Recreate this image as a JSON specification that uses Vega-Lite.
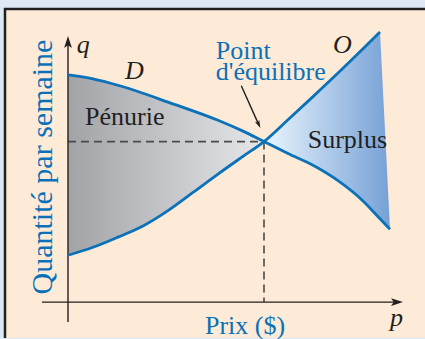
{
  "$schema": "https://vega.github.io/schema/vega-lite/v6.json",
  "width": 425,
  "height": 339,
  "padding": 0,
  "autosize": {"type": "fit", "contains": "padding"},
  "background": "#dde8f4",
  "config": {"view": {"stroke": null}},
  "datasets": {
    "curves": [
      {"p": 0, "demand": 228, "supply": 47},
      {"p": 25, "demand": 224, "supply": 55},
      {"p": 50, "demand": 217.5, "supply": 65.2},
      {"p": 75, "demand": 209.5, "supply": 76.4},
      {"p": 100, "demand": 200.6, "supply": 91.8},
      {"p": 125, "demand": 191.8, "supply": 110},
      {"p": 150, "demand": 182.4, "supply": 128.4},
      {"p": 175, "demand": 171.5, "supply": 146.2},
      {"p": 196, "demand": 161, "supply": 161},
      {"p": 220, "demand": 149, "supply": 182.9},
      {"p": 245, "demand": 137.2, "supply": 206.1},
      {"p": 270, "demand": 121.8, "supply": 229.7},
      {"p": 295, "demand": 101.5, "supply": 254},
      {"p": 312, "demand": 83.6, "supply": 271},
      {"p": 322, "demand": 73, "supply": null}
    ],
    "shortage": [
      {"p": 0, "top": 228, "bottom": 47},
      {"p": 25, "top": 224, "bottom": 55},
      {"p": 50, "top": 217.5, "bottom": 65.2},
      {"p": 75, "top": 209.5, "bottom": 76.4},
      {"p": 100, "top": 200.6, "bottom": 91.8},
      {"p": 125, "top": 191.8, "bottom": 110},
      {"p": 150, "top": 182.4, "bottom": 128.4},
      {"p": 175, "top": 171.5, "bottom": 146.2},
      {"p": 196, "top": 161, "bottom": 161}
    ],
    "surplus": [
      {"p": 196, "top": 161, "bottom": 161},
      {"p": 220, "top": 182.9, "bottom": 149},
      {"p": 245, "top": 206.1, "bottom": 137.2},
      {"p": 270, "top": 229.7, "bottom": 121.8},
      {"p": 295, "top": 254, "bottom": 101.5},
      {"p": 312, "top": 271, "bottom": 83.6},
      {"p": 317, "top": 172, "bottom": 78.3},
      {"p": 322, "top": 73, "bottom": 73}
    ]
  },
  "layer": [
    {
      "data": {"values": [{"p1": -63, "p2": 420, "q1": 294, "q2": -100}]},
      "mark": {"type": "rect", "fill": "#fdebd7", "stroke": "#231f20", "strokeWidth": 2.5, "clip": true},
      "encoding": {
        "x": {"field": "p1", "type": "quantitative", "scale": {"domain": [-68, 357], "nice": false, "zero": false}, "axis": null},
        "x2": {"field": "p2"},
        "y": {"field": "q1", "type": "quantitative", "scale": {"domain": [-36, 303], "nice": false, "zero": false}, "axis": null},
        "y2": {"field": "q2"}
      }
    },
    {
      "data": {"name": "shortage"},
      "mark": {
        "type": "area",
        "interpolate": "linear",
        "color": {"gradient": "linear", "x1": 0, "x2": 1, "y1": 0, "y2": 0,
          "stops": [{"offset": 0, "color": "#a1a3a7"}, {"offset": 1, "color": "#e6e7e9"}]}
      },
      "encoding": {
        "x": {"field": "p", "type": "quantitative", "scale": {"domain": [-68, 357], "nice": false, "zero": false}, "axis": null},
        "y": {"field": "top", "type": "quantitative", "scale": {"domain": [-36, 303], "nice": false, "zero": false}, "axis": null},
        "y2": {"field": "bottom"}
      }
    },
    {
      "data": {"name": "surplus"},
      "mark": {
        "type": "area",
        "interpolate": "linear",
        "color": {"gradient": "linear", "x1": 0, "x2": 1, "y1": 0, "y2": 0,
          "stops": [{"offset": 0, "color": "#eaf5fd"}, {"offset": 1, "color": "#76a1d6"}]}
      },
      "encoding": {
        "x": {"field": "p", "type": "quantitative", "scale": {"domain": [-68, 357], "nice": false, "zero": false}, "axis": null},
        "y": {"field": "top", "type": "quantitative", "scale": {"domain": [-36, 303], "nice": false, "zero": false}, "axis": null},
        "y2": {"field": "bottom"}
      }
    },
    {
      "data": {"values": [{"p1": 0, "q1": 161, "p2": 196, "q2": 161}, {"p1": 196, "q1": 161, "p2": 196, "q2": 0}]},
      "mark": {"type": "rule", "color": "#4a4a4a", "strokeWidth": 1.6, "strokeDash": [8, 5]},
      "encoding": {
        "x": {"field": "p1", "type": "quantitative", "scale": {"domain": [-68, 357], "nice": false, "zero": false}, "axis": null},
        "x2": {"field": "p2"},
        "y": {"field": "q1", "type": "quantitative", "scale": {"domain": [-36, 303], "nice": false, "zero": false}, "axis": null},
        "y2": {"field": "q2"}
      }
    },
    {
      "data": {"values": [{"p1": -26, "q1": 0, "p2": 330, "q2": 0}, {"p1": 0, "q1": -20, "p2": 0, "q2": 262}, {"p1": 173.3, "q1": 217, "p2": 190.5, "q2": 178.5}]},
      "mark": {"type": "rule", "color": "#231f20", "strokeWidth": 1.4},
      "encoding": {
        "x": {"field": "p1", "type": "quantitative", "scale": {"domain": [-68, 357], "nice": false, "zero": false}, "axis": null},
        "x2": {"field": "p2"},
        "y": {"field": "q1", "type": "quantitative", "scale": {"domain": [-36, 303], "nice": false, "zero": false}, "axis": null},
        "y2": {"field": "q2"}
      }
    },
    {
      "data": {"values": [{"p": 0, "q": 261}]},
      "mark": {"type": "point", "shape": "M0,-1L0.65,1L0,0.55L-0.65,1Z", "filled": true, "size": 144, "color": "#231f20", "opacity": 1, "angle": 0},
      "encoding": {
        "x": {"field": "p", "type": "quantitative", "scale": {"domain": [-68, 357], "nice": false, "zero": false}, "axis": null},
        "y": {"field": "q", "type": "quantitative", "scale": {"domain": [-36, 303], "nice": false, "zero": false}, "axis": null}
      }
    },
    {
      "data": {"values": [{"p": 329, "q": 0}]},
      "mark": {"type": "point", "shape": "M0,-1L0.65,1L0,0.55L-0.65,1Z", "filled": true, "size": 144, "color": "#231f20", "opacity": 1, "angle": 90},
      "encoding": {
        "x": {"field": "p", "type": "quantitative", "scale": {"domain": [-68, 357], "nice": false, "zero": false}, "axis": null},
        "y": {"field": "q", "type": "quantitative", "scale": {"domain": [-36, 303], "nice": false, "zero": false}, "axis": null}
      }
    },
    {
      "data": {"values": [{"p": 190.7, "q": 178.3}]},
      "mark": {"type": "point", "shape": "M0,-1L0.6,1L0,0.5L-0.6,1Z", "filled": true, "size": 64, "color": "#231f20", "opacity": 1, "angle": 155.8},
      "encoding": {
        "x": {"field": "p", "type": "quantitative", "scale": {"domain": [-68, 357], "nice": false, "zero": false}, "axis": null},
        "y": {"field": "q", "type": "quantitative", "scale": {"domain": [-36, 303], "nice": false, "zero": false}, "axis": null}
      }
    },
    {
      "data": {"name": "curves"},
      "mark": {"type": "line", "interpolate": "monotone", "color": "#0b72b9", "strokeWidth": 2.8},
      "encoding": {
        "x": {"field": "p", "type": "quantitative", "scale": {"domain": [-68, 357], "nice": false, "zero": false}, "axis": null},
        "y": {"field": "demand", "type": "quantitative", "scale": {"domain": [-36, 303], "nice": false, "zero": false}, "axis": null}
      }
    },
    {
      "data": {"name": "curves"},
      "mark": {"type": "line", "interpolate": "monotone", "color": "#0b72b9", "strokeWidth": 2.8},
      "encoding": {
        "x": {"field": "p", "type": "quantitative", "scale": {"domain": [-68, 357], "nice": false, "zero": false}, "axis": null},
        "y": {"field": "supply", "type": "quantitative", "scale": {"domain": [-36, 303], "nice": false, "zero": false}, "axis": null}
      }
    },
    {
      "data": {"values": [
        {"p": 8.7, "q": 249.7, "label": "q"},
        {"p": 57, "q": 224, "label": "D"},
        {"p": 265, "q": 250, "label": "O"},
        {"p": 322, "q": -24, "label": "p"}
      ]},
      "mark": {"type": "text", "font": "Liberation Serif", "fontSize": 26, "fontStyle": "italic", "color": "#231f20", "align": "left", "baseline": "alphabetic"},
      "encoding": {
        "x": {"field": "p", "type": "quantitative", "scale": {"domain": [-68, 357], "nice": false, "zero": false}, "axis": null},
        "y": {"field": "q", "type": "quantitative", "scale": {"domain": [-36, 303], "nice": false, "zero": false}, "axis": null},
        "text": {"field": "label"}
      }
    },
    {
      "data": {"values": [
        {"p": 17, "q": 178, "label": "Pénurie"},
        {"p": 239.7, "q": 154.7, "label": "Surplus"}
      ]},
      "mark": {"type": "text", "font": "Liberation Serif", "fontSize": 26, "color": "#231f20", "align": "left", "baseline": "alphabetic"},
      "encoding": {
        "x": {"field": "p", "type": "quantitative", "scale": {"domain": [-68, 357], "nice": false, "zero": false}, "axis": null},
        "y": {"field": "q", "type": "quantitative", "scale": {"domain": [-36, 303], "nice": false, "zero": false}, "axis": null},
        "text": {"field": "label"}
      }
    },
    {
      "data": {"values": [
        {"p": 147.7, "q": 243.7, "label": "Point"},
        {"p": 147.7, "q": 223, "label": "d'équilibre"},
        {"p": 137, "q": -32, "label": "Prix ($)"}
      ]},
      "mark": {"type": "text", "font": "Liberation Serif", "fontSize": 26, "color": "#0a71b8", "align": "left", "baseline": "alphabetic"},
      "encoding": {
        "x": {"field": "p", "type": "quantitative", "scale": {"domain": [-68, 357], "nice": false, "zero": false}, "axis": null},
        "y": {"field": "q", "type": "quantitative", "scale": {"domain": [-36, 303], "nice": false, "zero": false}, "axis": null},
        "text": {"field": "label"}
      }
    },
    {
      "data": {"values": [{"p": -16.3, "q": 135.5, "label": "Quantité par semaine"}]},
      "mark": {"type": "text", "font": "Liberation Serif", "fontSize": 30, "color": "#0a71b8", "align": "center", "baseline": "alphabetic", "angle": 270},
      "encoding": {
        "x": {"field": "p", "type": "quantitative", "scale": {"domain": [-68, 357], "nice": false, "zero": false}, "axis": null},
        "y": {"field": "q", "type": "quantitative", "scale": {"domain": [-36, 303], "nice": false, "zero": false}, "axis": null},
        "text": {"field": "label"}
      }
    }
  ]
}
